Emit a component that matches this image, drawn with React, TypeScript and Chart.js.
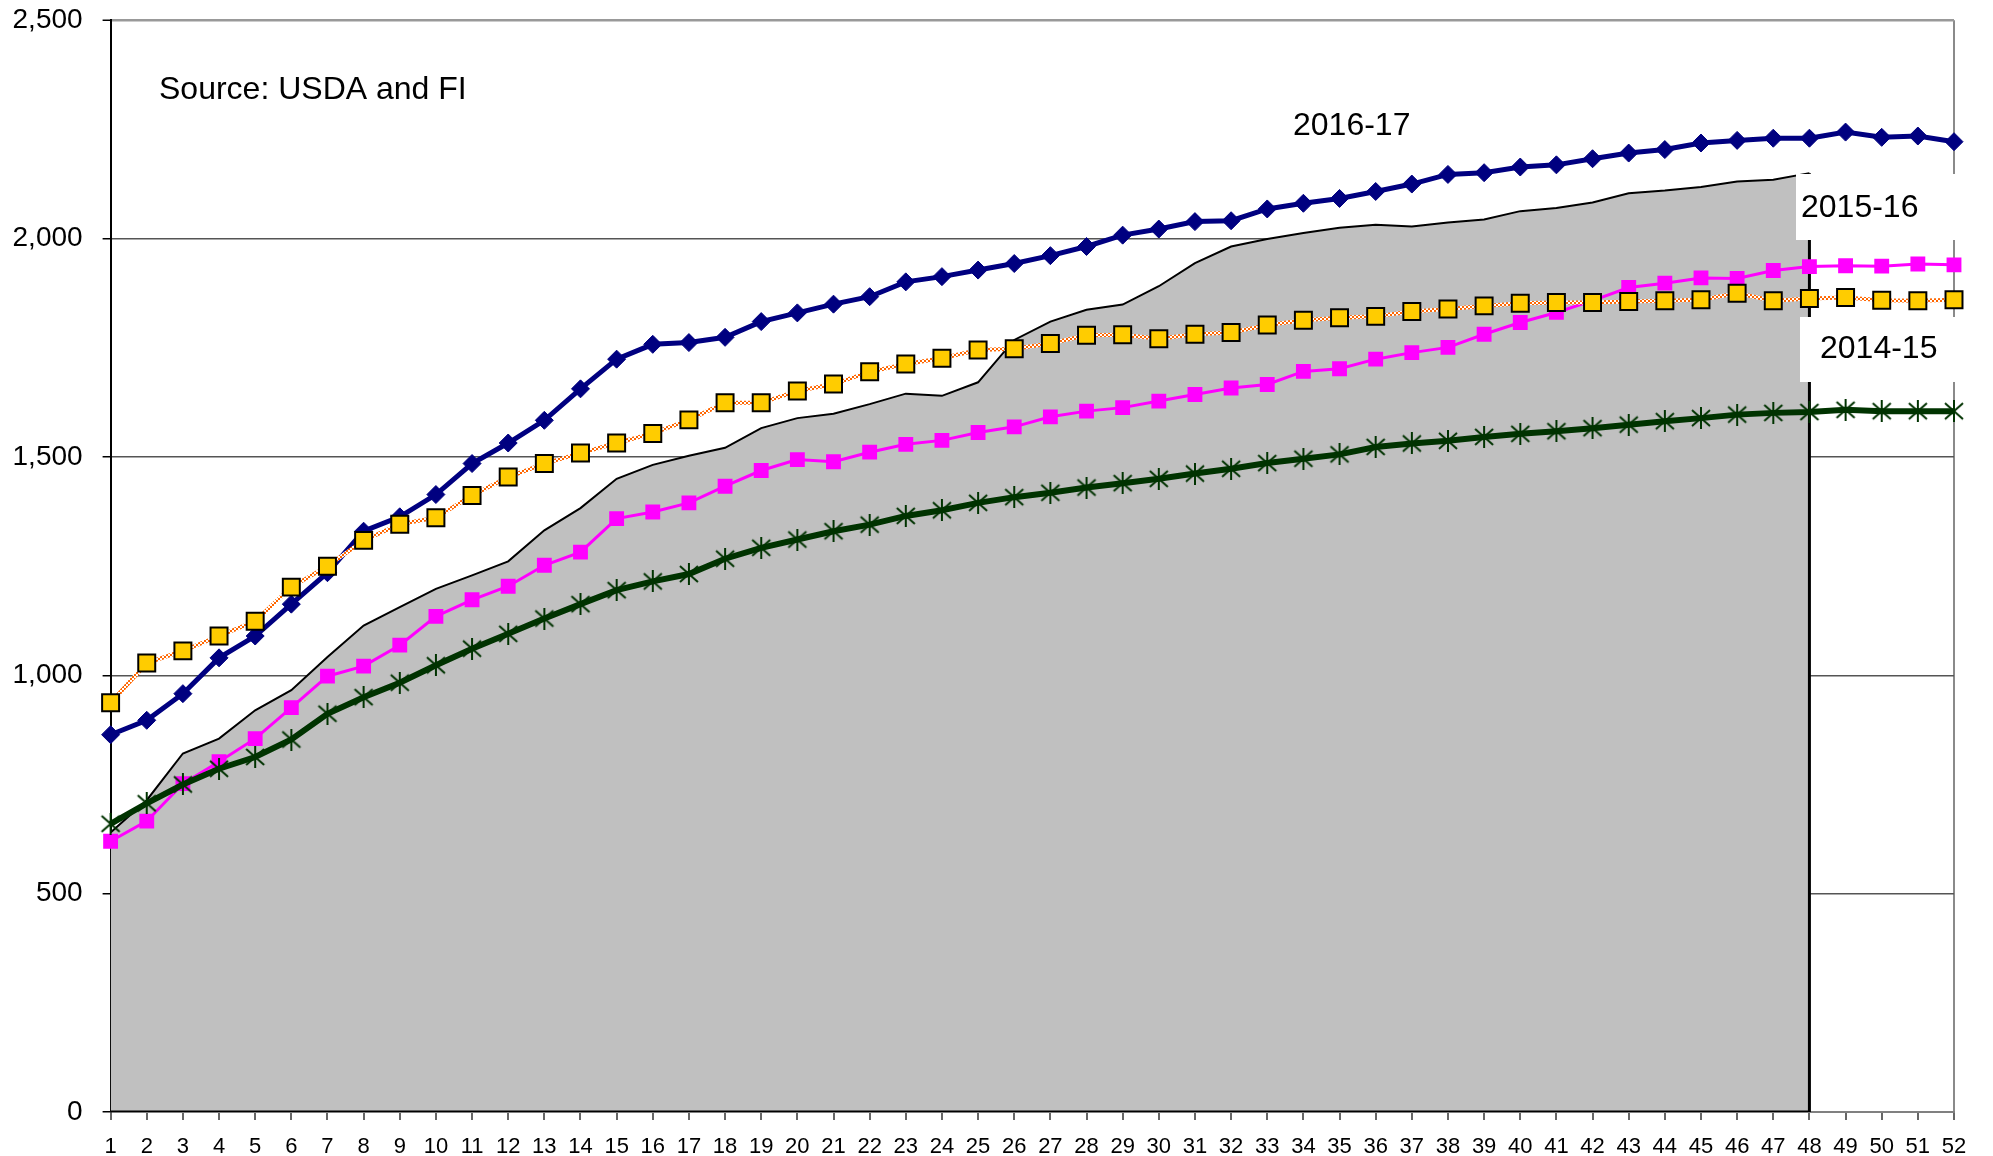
import React, { useEffect, useRef } from 'react';
import { Chart, registerables } from 'chart.js';

Chart.register(...registerables);

const weeks = ['1','2','3','4','5','6','7','8','9','10','11','12','13','14','15','16','17','18','19','20','21','22','23','24','25','26','27','28','29','30','31','32','33','34','35','36','37','38','39','40','41','42','43','44','45','46','47','48','49','50','51','52'];

const yMin = 0;
const yMax = 2500;
const yStep = 500;

// 2016-17 (navy diamonds)
const season1617 = [864, 897, 958, 1040, 1090, 1163, 1235, 1330, 1363, 1414, 1485, 1532, 1584, 1656, 1724, 1758, 1762, 1774, 1810, 1830, 1850, 1867, 1901, 1913, 1928, 1943, 1961, 1982, 2008, 2022, 2039, 2041, 2068, 2081, 2092, 2108, 2125, 2147, 2151, 2164, 2169, 2183, 2196, 2204, 2219, 2225, 2230, 2230, 2244, 2232, 2235, 2222];

// yellow squares on orange checkered line
const seasonYellow = [937, 1028, 1056, 1090, 1124, 1202, 1250, 1309, 1346, 1361, 1412, 1454, 1485, 1509, 1532, 1554, 1585, 1624, 1624, 1651, 1667, 1695, 1713, 1726, 1745, 1748, 1760, 1779, 1780, 1771, 1781, 1785, 1802, 1813, 1819, 1822, 1833, 1839, 1846, 1852, 1854, 1854, 1856, 1858, 1860, 1875, 1858, 1863, 1865, 1859, 1858, 1860];

// magenta squares
const seasonMagenta = [620, 666, 752, 802, 855, 926, 998, 1021, 1069, 1135, 1173, 1204, 1252, 1282, 1359, 1374, 1395, 1433, 1469, 1494, 1489, 1511, 1529, 1538, 1556, 1569, 1592, 1605, 1613, 1628, 1643, 1658, 1666, 1696, 1702, 1724, 1739, 1751, 1781, 1808, 1831, 1858, 1888, 1898, 1910, 1909, 1927, 1936, 1938, 1937, 1942, 1940];

// dark green stars
const seasonGreen = [660, 707, 750, 786, 813, 853, 912, 950, 983, 1023, 1061, 1095, 1130, 1163, 1195, 1215, 1232, 1267, 1292, 1311, 1330, 1345, 1365, 1378, 1395, 1408, 1418, 1430, 1440, 1450, 1462, 1473, 1486, 1496, 1506, 1523, 1531, 1537, 1546, 1553, 1559, 1566, 1574, 1582, 1589, 1597, 1601, 1603, 1608, 1605, 1605, 1605];

// grey area (current season, through week 48)
const seasonArea = [640, 714, 821, 855, 920, 966, 1042, 1114, 1156, 1198, 1229, 1261, 1332, 1383, 1450, 1482, 1503, 1521, 1566, 1589, 1599, 1621, 1645, 1640, 1671, 1768, 1810, 1837, 1849, 1891, 1944, 1982, 1999, 2013, 2025, 2032, 2028, 2037, 2044, 2063, 2070, 2083, 2104, 2110, 2118, 2131, 2135, 2150];

const FONT = '"Liberation Sans", Arial, Helvetica, sans-serif';

const annotationPlugin = {
  id: 'annotationText',
  afterDatasetsDraw(chart: any) {
    const ctx = chart.ctx;
    ctx.save();
    ctx.fillStyle = '#ffffff';
    ctx.fillRect(1796, 174, 161, 66);
    ctx.fillRect(1800, 317, 157, 65);
    ctx.fillStyle = '#000000';
    ctx.font = '32px ' + FONT;
    ctx.textBaseline = 'middle';
    ctx.textAlign = 'left';
    ctx.fillText('Source: USDA and FI', 159, 90);
    ctx.fillText('2016-17', 1293, 126);
    ctx.fillText('2015-16', 1801, 208);
    ctx.fillText('2014-15', 1820, 349);
    ctx.restore();
  },
};

export default function App() {
  const ref = useRef<HTMLCanvasElement | null>(null);

  useEffect(() => {
    if (!ref.current) return;

    const star = document.createElement('canvas');
    star.width = 22;
    star.height = 22;
    const sc = star.getContext('2d')!;
    sc.strokeStyle = '#003300';
    sc.lineWidth = 2;
    sc.beginPath();
    sc.moveTo(11, 0);
    sc.lineTo(11, 22);
    sc.moveTo(2, 3);
    sc.lineTo(20, 19);
    sc.moveTo(20, 3);
    sc.lineTo(2, 19);
    sc.stroke();

    const pat = document.createElement('canvas');
    pat.width = 4;
    pat.height = 4;
    const pc = pat.getContext('2d')!;
    pc.fillStyle = '#ffffff';
    pc.fillRect(0, 0, 4, 4);
    pc.fillStyle = '#FF6600';
    pc.fillRect(0, 0, 2, 2);
    pc.fillRect(2, 2, 2, 2);
    const checker = pc.createPattern(pat, 'repeat');

    Chart.defaults.font.family = FONT;
    Chart.defaults.color = '#000';

    const last = seasonArea.length - 1;

    const chart = new Chart(ref.current, {
      type: 'line',
      data: {
        labels: weeks,
        datasets: [
          {
            label: '2017-18',
            data: seasonArea,
            fill: 'origin',
            backgroundColor: '#C0C0C0',
            borderColor: '#000000',
            borderWidth: 2,
            pointRadius: 0,
            tension: 0,
            order: 5,
          },
          {
            label: 'edge',
            data: [
              { x: weeks[last], y: seasonArea[last] },
              { x: weeks[last], y: 0 },
              { x: weeks[0], y: 0 },
            ] as any,
            fill: false,
            borderColor: '#000000',
            borderWidth: 3,
            pointRadius: 0,
            order: 4,
          },
          {
            label: '2015-16',
            data: seasonMagenta,
            borderColor: '#FF00FF',
            borderWidth: 3,
            pointStyle: 'rect',
            pointRadius: 10.5,
            pointBackgroundColor: '#FF00FF',
            pointBorderWidth: 0,
            fill: false,
            order: 3,
          },
          {
            label: '2016-17',
            data: season1617,
            borderColor: '#000080',
            borderWidth: 5,
            pointStyle: 'rectRot',
            pointRadius: 9,
            pointBackgroundColor: '#000080',
            pointBorderColor: '#000080',
            pointBorderWidth: 1,
            fill: false,
            order: 2,
          },
          {
            label: 'Average',
            data: seasonGreen,
            borderColor: '#003300',
            borderWidth: 6,
            pointStyle: star as any,
            pointRadius: 11,
            fill: false,
            order: 1,
          },
          {
            label: '2014-15',
            data: seasonYellow,
            borderColor: checker as any,
            borderWidth: 4,
            pointStyle: 'rect',
            pointRadius: 12,
            pointBackgroundColor: '#FFCC00',
            pointBorderColor: '#000000',
            pointBorderWidth: 2,
            fill: false,
            order: 0,
          },
        ],
      },
      options: {
        animation: false,
        responsive: false,
        events: [],
        layout: { padding: { left: 0, right: 39, top: 20.3, bottom: 0 } },
        plugins: {
          legend: { display: false },
          tooltip: { enabled: false },
        },
        scales: {
          x: {
            type: 'category',
            offset: false,
            grid: {
              color: (c: any) => (c.index === weeks.length - 1 ? '#8a8a8a' : 'rgba(0,0,0,0)'),
              lineWidth: 2,
              tickColor: '#333333',
              tickLength: 8,
              tickWidth: 1.5,
            },
            border: { color: '#808080', width: 2 },
            ticks: {
              autoSkip: false,
              maxRotation: 0,
              minRotation: 0,
              color: '#000',
              font: { size: 22 },
              padding: 14,
            },
            afterFit: (s: any) => {
              s.height = 44;
            },
          },
          y: {
            min: yMin,
            max: yMax,
            ticks: {
              stepSize: yStep,
              color: '#000',
              font: { size: 28 },
              padding: 20,
              callback: (v: any) => Number(v).toLocaleString('en-US'),
            },
            grid: {
              color: (c: any) => {
                const v = c.tick ? c.tick.value : null;
                if (v === yMax) return '#999999';
                if (v === yMin) return 'rgba(0,0,0,0)';
                return '#555555';
              },
              lineWidth: (c: any) => (c.tick && c.tick.value === yMax ? 2.5 : 1.5),
              tickColor: '#000000',
              tickLength: 8,
              tickWidth: 1.5,
            },
            border: { color: '#000000', width: 2 },
            afterFit: (s: any) => {
              s.width = 110.6;
              s.paddingTop = 0;
              s.paddingBottom = 0;
            },
          },
        },
      },
      plugins: [annotationPlugin],
    });

    return () => chart.destroy();
  }, []);

  return (
    <div style={{ position: 'absolute', left: 0, top: 0, width: 1993, height: 1156, background: '#fff' }}>
      <canvas ref={ref} width={1993} height={1156} style={{ display: 'block' }} />
    </div>
  );
}
